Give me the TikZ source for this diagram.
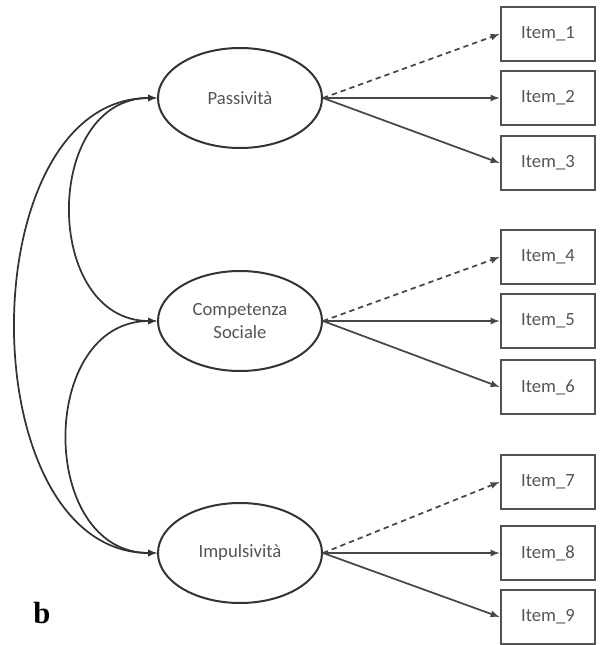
\documentclass[tikz,border=0pt]{standalone}
\usepackage{fontspec}
\setmainfont{Carlito}
\newfontfamily\panelfont{Liberation Serif}
\usepackage{xcolor}
\usepackage{tikz}
\usetikzlibrary{shapes,arrows,positioning}

\definecolor{txtgray}{HTML}{555555}
\definecolor{linegray}{HTML}{333333}

\begin{document}
\begin{tikzpicture}[
    x=0.75pt, y=-0.75pt,
    factor/.style={draw=linegray, ellipse, line width=1.5pt, minimum width=123pt, minimum height=75pt, inner sep=0pt, align=center, text=txtgray, font=\fontsize{14}{17}\selectfont},
    item/.style={draw=linegray!85, rectangle, line width=1.6pt, minimum width=71pt, minimum height=40pt, text=txtgray, font=\fontsize{14}{17}\selectfont},
    arrow/.style={->, >=latex, line width=1.3pt, draw=linegray!90},
    cov/.style={<->, >=latex, line width=1.3pt, draw=linegray}
]
    \useasboundingbox (0,0) rectangle (599,645);

    % latent factors
    \node[factor] (pas) at (240,98) {Passività};
    \node[factor] (com) at (240,321) {Competenza\\Sociale};
    \node[factor] (imp) at (240,553) {Impulsività};

    % observed items
    \node[item] (i1) at (548,34) {Item\_1};
    \node[item] (i2) at (548,98) {Item\_2};
    \node[item] (i3) at (548,163) {Item\_3};
    \node[item] (i4) at (548,257) {Item\_4};
    \node[item] (i5) at (548,321) {Item\_5};
    \node[item] (i6) at (548,387) {Item\_6};
    \node[item] (i7) at (548,482) {Item\_7};
    \node[item] (i8) at (548,553) {Item\_8};
    \node[item] (i9) at (548,617) {Item\_9};

    % loadings
    \draw[arrow, dash pattern=on 4pt off 3pt] (pas.east) -- (i1.west);
    \draw[arrow] (pas.east) -- (i2.west);
    \draw[arrow] (pas.east) -- (i3.west);
    \draw[arrow, dash pattern=on 4pt off 3pt] (com.east) -- (i4.west);
    \draw[arrow] (com.east) -- (i5.west);
    \draw[arrow] (com.east) -- (i6.west);
    \draw[arrow, dash pattern=on 4pt off 3pt] (imp.east) -- (i7.west);
    \draw[arrow] (imp.east) -- (i8.west);
    \draw[arrow] (imp.east) -- (i9.west);

    % covariances
    \draw[cov] (pas.west) to[out=180, in=180, looseness=1.32] (com.west);
    \draw[cov] (com.west) to[out=180, in=180, looseness=1.32] (imp.west);
    \draw[cov] (pas.west) to[out=180, in=180, looseness=1.06] (imp.west);

    \node[font=\panelfont\bfseries\fontsize{23}{25}\selectfont] (lbl) at (42,613) {b};

\end{tikzpicture}
\end{document}
